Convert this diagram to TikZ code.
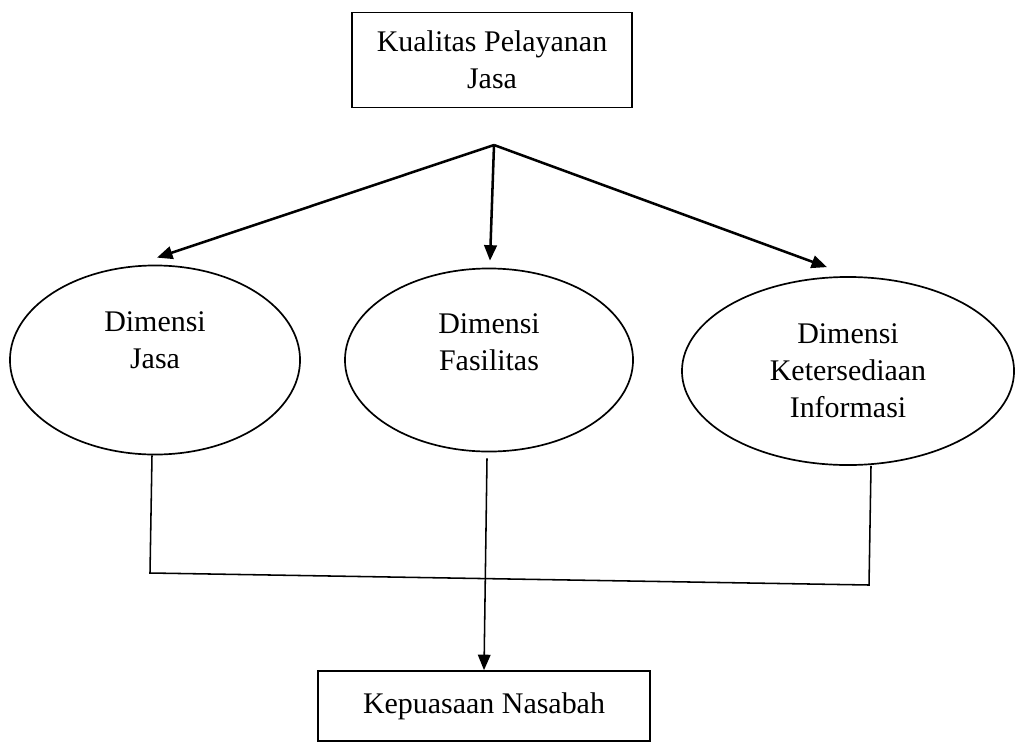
\documentclass[tikz,border=0pt]{standalone}
\usepackage{fontspec}
\setmainfont{Liberation Serif}
\usepackage{tikz}
\usetikzlibrary{shapes.geometric, arrows.meta, calc, positioning}
\tikzstyle{kotak} = [rectangle, draw=black, line width=1.2pt, text centered, align=center, inner sep=0pt]
\tikzstyle{dimensi} = [ellipse, draw=black, line width=1.2pt, inner sep=0pt]
\tikzstyle{teks} = [align=center, inner sep=0pt]
\tikzstyle{arrow} = [line width=1.8pt, -{Triangle[length=11pt,width=9pt]}]
\tikzstyle{garis} = [line width=1.1pt]

\begin{document}
\begin{tikzpicture}[x=0.025cm, y=-0.025cm, font=\fontsize{21.3}{26.3}\selectfont]
  \useasboundingbox (0,0) rectangle (1016,742);

  \node (kualitas) [kotak, minimum width=7cm, minimum height=2.375cm] at (492,60) {Kualitas Pelayanan\\Jasa};
  \coordinate (cabang) at (494,145);

  \node (jasa) [dimensi, minimum width=7.25cm, minimum height=4.725cm] at (155,360) {};
  \node (jasatxt) [teks] at ($(jasa.center)+(0,-20)$) {Dimensi\\Jasa};
  \node (fasilitas) [dimensi, minimum width=7.2cm, minimum height=4.575cm] at (489,360) {};
  \node (fasilitastxt) [teks] at ($(fasilitas.center)+(0,-18)$) {Dimensi\\Fasilitas};
  \node (informasi) [dimensi, minimum width=8.3cm, minimum height=4.7cm] at (848,371) {};
  \node (informasitxt) [teks] at (informasi.center) {Dimensi\\Ketersediaan\\Informasi};

  \node (kepuasan) [kotak, minimum width=8.3cm, minimum height=1.75cm] at (484,706) {Kepuasaan Nasabah};

  \coordinate (kiri) at (150,573);
  \coordinate (kanan) at (869,585);

  \draw[arrow] (cabang) -- ($(jasa.north)+(2,-7)$);
  \draw[arrow] (cabang) -- ($(fasilitas.north)+(1,-7)$);
  \draw[arrow] (cabang) -- ($(informasi.north)+(-21,-9)$);

  \draw[garis] ($(jasa.south)+(-3,0)$) -- (kiri) -- (kanan) -- ($(informasi.south)+(23,0)$);
  \draw[garis, -{Triangle[length=11pt,width=9pt]}] ($(fasilitas.south)+(-2,6)$) -- (kepuasan.north);
\end{tikzpicture}
\end{document}
